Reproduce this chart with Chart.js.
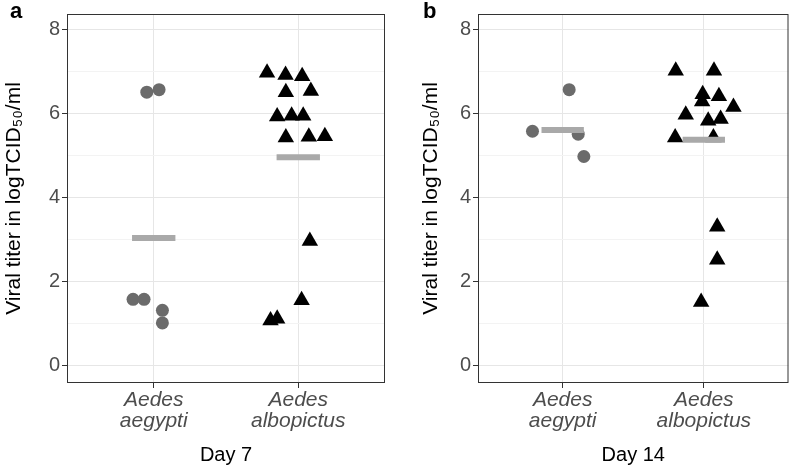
<!DOCTYPE html>
<html>
<head>
<meta charset="utf-8">
<script src="https://cdn.jsdelivr.net/npm/chart.js@4"></script>
<style>
  body { margin: 0; background: #fff; }
  #wrap { position: relative; width: 798px; height: 468px; }
  canvas { position: absolute; top: 0; }
  #cv-a { left: 0; }
  #cv-b { left: 400px; }
  .tag { position: absolute; top: 0; font: bold 22px/22px "Liberation Sans", Arial, sans-serif; color: #000; }
</style>
</head>
<body>
<div id="wrap">
  <canvas id="cv-a" width="400" height="468"></canvas>
  <canvas id="cv-b" width="398" height="468"></canvas>
  <div class="tag" style="left:10px">a</div>
  <div class="tag" style="left:423px">b</div>
</div>
<script>
const categories = [['Aedes', 'aegypti'], ['Aedes', 'albopictus']];
const yTickLabels = [0, 2, 4, 6, 8];
const yMinorTicks = [1, 3, 5, 7];
const yTitle = 'Viral titer in logTCID₅₀/ml';

// Day 7 (panel a) - x is category position incl. jitter
const d7AegyptiX = [0.952, 1.037, 0.857, 0.933, 1.06, 1.06];
const d7AegyptiY = [6.51, 6.57, 1.58, 1.58, 1.32, 1.02];
const d7AlbopictusX = [1.784, 1.912, 2.027, 1.914, 2.087, 1.854, 1.954, 2.034, 1.914, 2.073, 2.184, 2.080, 2.023, 1.808, 1.854];
const d7AlbopictusY = [6.97, 6.92, 6.89, 6.51, 6.54, 5.93, 5.95, 5.95, 5.43, 5.45, 5.46, 2.97, 1.56, 1.08, 1.12];
const d7Means = [3.04, 4.96];

// Day 14 (panel b)
const d14AegyptiX = [0.786, 1.046, 1.11, 1.15];
const d14AegyptiY = [5.58, 6.57, 5.51, 4.98];
const d14AlbopictusX = [1.801, 2.072, 1.992, 1.988, 2.107, 2.21, 1.872, 2.031, 2.119, 1.797, 2.068, 2.095, 2.095, 1.981];
const d14AlbopictusY = [7.02, 7.02, 6.46, 6.29, 6.41, 6.16, 5.97, 5.83, 5.87, 5.43, 5.43, 3.31, 2.52, 1.52];
const d14Means = [5.61, 5.38];

const FONT = '"Liberation Sans", Arial, sans-serif';
const MEAN_HALF = 0.15;

const panelBorder = {
  id: 'panelBorder',
  afterDatasetsDraw(chart) {
    const { ctx, chartArea: a } = chart;
    ctx.save();
    ctx.strokeStyle = '#333333';
    ctx.lineWidth = 1;
    ctx.strokeRect(a.left + 0.5, a.top + 0.5, a.width - 1, a.height - 1);
    ctx.restore();
  }
};

function pts(xs, ys) {
  return xs.map((x, i) => ({ x, y: ys[i] }));
}

function makePanel(id, o) {
  const meanSets = o.means.map((m, i) => ({
    type: 'line',
    data: [{ x: i + 1 - MEAN_HALF, y: m }, { x: i + 1 + MEAN_HALF, y: m }],
    borderColor: '#a9a9a9',
    borderWidth: 6,
    borderCapStyle: 'butt',
    pointRadius: 0,
    showLine: true
  }));
  const allY = [...yTickLabels, ...yMinorTicks].sort((a, b) => a - b);
  return new Chart(document.getElementById(id), {
    type: 'scatter',
    data: {
      datasets: [
        ...meanSets,
        {
          data: pts(o.aegX, o.aegY),
          pointStyle: 'circle',
          pointRadius: 6.5,
          backgroundColor: '#6b6b6b',
          borderWidth: 0
        },
        {
          data: pts(o.albX, o.albY),
          pointStyle: 'triangle',
          pointRadius: 9.5,
          backgroundColor: '#000000',
          borderWidth: 0
        }
      ]
    },
    options: {
      responsive: false,
      animation: false,
      layout: { padding: { left: 0, right: o.padRight, top: 2, bottom: 0 } },
      plugins: { legend: { display: false }, tooltip: { enabled: false } },
      scales: {
        x: {
          type: 'linear',
          min: 0.4,
          max: 2.6,
          afterBuildTicks: (s) => { s.ticks = categories.map((c, i) => ({ value: i + 1 })); },
          afterFit: (s) => { s.height = 85; },
          border: { display: false },
          grid: { color: '#e6e6e6', lineWidth: 1, tickLength: 5, tickColor: '#333333' },
          ticks: {
            padding: 1,
            maxRotation: 0,
            font: { family: FONT, size: 21, style: 'italic', lineHeight: 1.03 },
            color: '#4d4d4d',
            callback: (v) => categories[Math.round(v) - 1]
          },
          title: {
            display: true,
            text: o.xTitle,
            color: '#000000',
            font: { family: FONT, size: 20 },
            padding: { top: 0, bottom: 1 }
          }
        },
        y: {
          min: -0.41,
          max: 8.37,
          afterBuildTicks: (s) => { s.ticks = allY.map((v) => ({ value: v })); },
          afterFit: (s) => { s.width = o.yWidth; },
          border: { display: false },
          grid: {
            color: (c) => (yTickLabels.includes(c.tick.value) ? '#e6e6e6' : '#f3f3f3'),
            lineWidth: 1,
            tickLength: 5,
            tickColor: (c) => (yTickLabels.includes(c.tick.value) ? '#333333' : 'rgba(0,0,0,0)')
          },
          ticks: {
            padding: 2,
            font: { family: FONT, size: 20 },
            color: '#4d4d4d',
            callback: (v) => (yTickLabels.includes(v) ? String(v) : '')
          },
          title: {
            display: true,
            text: yTitle,
            color: '#000000',
            font: { family: FONT, size: 21 },
            padding: { top: o.yTitlePad, bottom: 0 }
          }
        }
      }
    },
    plugins: [panelBorder]
  });
}

makePanel('cv-a', {
  aegX: d7AegyptiX, aegY: d7AegyptiY,
  albX: d7AlbopictusX, albY: d7AlbopictusY,
  means: d7Means, xTitle: 'Day 7',
  yWidth: 67, yTitlePad: 1.5, padRight: 15
});

makePanel('cv-b', {
  aegX: d14AegyptiX, aegY: d14AegyptiY,
  albX: d14AlbopictusX, albY: d14AlbopictusY,
  means: d14Means, xTitle: 'Day 14',
  yWidth: 78, yTitlePad: 18.5, padRight: 1
});
</script>
</body>
</html>
